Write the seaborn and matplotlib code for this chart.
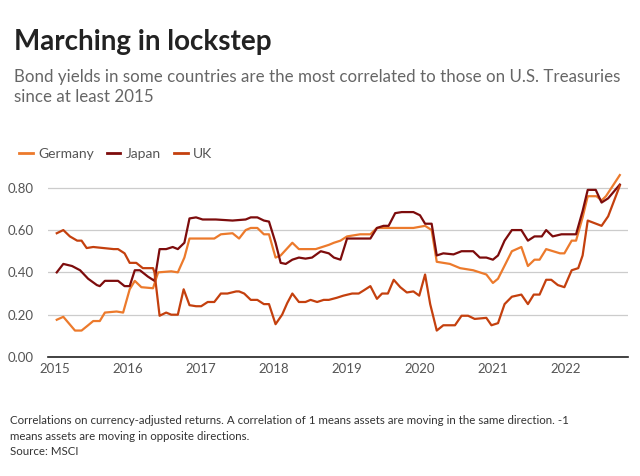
import matplotlib
matplotlib.use("Agg")
import matplotlib.pyplot as plt
import seaborn as sns
import pandas as pd

germany_t = [2015.02,2015.11,2015.27,2015.36,2015.45,2015.52,2015.61,2015.68,2015.84,2015.93,2016.02,2016.09,2016.18,2016.34,2016.41,2016.59,2016.68,2016.77,2016.84,2016.98,2017.18,2017.27,2017.43,2017.52,2017.61,2017.68,2017.77,2017.86,2017.93,2018.02,2018.09,2018.25,2018.34,2018.57,2018.66,2018.75,
             2018.82,2018.91,2019.0,2019.18,2019.32,2019.41,2019.57,2019.73,2019.91,2020.07,2020.16,2020.23,2020.41,2020.55,2020.73,2020.91,2021.0,2021.07,2021.26,2021.39,2021.48,2021.57,2021.64,2021.73,2021.92,2021.98,2022.08,2022.14,2022.23,2022.30,2022.42,2022.49,2022.55,2022.74]
germany_v = [0.176,0.19,0.125,0.125,0.15,0.17,0.17,0.21,0.215,0.21,0.32,0.36,0.33,0.325,0.40,0.405,0.40,0.47,0.56,0.56,0.56,0.58,0.585,0.56,0.60,0.61,0.61,0.58,0.58,0.47,0.48,0.54,0.51,0.51,0.52,0.53,
             0.54,0.55,0.57,0.58,0.58,0.61,0.61,0.61,0.61,0.62,0.60,0.45,0.44,0.42,0.41,0.39,0.35,0.37,0.50,0.52,0.43,0.46,0.46,0.51,0.49,0.49,0.55,0.55,0.66,0.76,0.76,0.74,0.76,0.86]

japan_t = [2015.02,2015.11,2015.23,2015.34,2015.45,2015.57,2015.61,2015.68,2015.77,2015.86,2015.95,2016.02,2016.09,2016.16,2016.27,2016.36,2016.43,2016.52,2016.61,2016.68,2016.77,2016.84,2016.93,2017.02,2017.20,2017.43,2017.61,2017.68,2017.77,2017.86,2017.93,2018.02,2018.09,2018.16,2018.25,2018.34,2018.43,2018.52,2018.64,2018.75,
           2018.82,2018.91,2019.0,2019.18,2019.23,2019.32,2019.41,2019.50,2019.57,2019.66,2019.75,2019.91,2020.0,2020.07,2020.16,2020.23,2020.32,2020.46,2020.57,2020.73,2020.82,2020.91,2021.0,2021.07,2021.16,2021.26,2021.39,2021.48,2021.57,2021.67,2021.73,2021.82,2021.94,2022.14,2022.23,2022.30,2022.41,2022.49,2022.58,2022.74]
japan_v = [0.40,0.44,0.43,0.41,0.37,0.34,0.335,0.36,0.36,0.36,0.335,0.335,0.41,0.41,0.38,0.36,0.51,0.51,0.52,0.51,0.54,0.655,0.66,0.65,0.65,0.645,0.65,0.66,0.66,0.645,0.64,0.54,0.445,0.44,0.46,0.47,0.465,0.47,0.50,0.49,
           0.47,0.46,0.56,0.56,0.56,0.56,0.61,0.62,0.62,0.68,0.685,0.685,0.67,0.63,0.63,0.48,0.49,0.485,0.50,0.50,0.47,0.47,0.46,0.48,0.55,0.60,0.60,0.55,0.57,0.57,0.60,0.57,0.58,0.58,0.69,0.79,0.79,0.73,0.75,0.815]

uk_t = [2015.02,2015.11,2015.20,2015.30,2015.36,2015.43,2015.52,2015.66,2015.80,2015.86,2015.95,2016.02,2016.11,2016.20,2016.34,2016.36,2016.43,2016.52,2016.59,2016.68,2016.76,2016.84,2016.93,2017.0,2017.09,2017.18,2017.27,2017.36,2017.48,2017.52,2017.59,2017.68,2017.77,2017.86,2017.93,2018.02,2018.11,2018.18,2018.25,2018.34,2018.43,2018.50,2018.59,2018.68,2018.75,
        2018.86,2018.95,2019.07,2019.16,2019.23,2019.32,2019.41,2019.48,2019.56,2019.64,2019.73,2019.82,2019.91,2019.99,2020.07,2020.14,2020.23,2020.32,2020.48,2020.57,2020.66,2020.75,2020.91,2020.98,2021.07,2021.16,2021.26,2021.39,2021.48,2021.56,2021.64,2021.73,2021.80,2021.89,2021.98,2022.08,2022.17,2022.23,2022.30,2022.49,2022.58,2022.74]
uk_v = [0.585,0.60,0.57,0.55,0.55,0.515,0.52,0.515,0.51,0.51,0.49,0.445,0.445,0.42,0.42,0.40,0.195,0.21,0.20,0.20,0.32,0.245,0.24,0.24,0.26,0.26,0.30,0.30,0.31,0.31,0.30,0.27,0.27,0.25,0.25,0.155,0.20,0.255,0.30,0.26,0.26,0.27,0.26,0.27,0.27,
        0.28,0.29,0.30,0.30,0.315,0.335,0.275,0.30,0.30,0.365,0.33,0.305,0.31,0.29,0.39,0.25,0.125,0.15,0.15,0.195,0.195,0.18,0.185,0.15,0.16,0.25,0.285,0.295,0.25,0.295,0.295,0.365,0.365,0.34,0.33,0.41,0.42,0.48,0.645,0.62,0.665,0.81]

year_ticks = [2015,2016,2017,2018,2019,2020,2021,2022]
y_ticks = [0.0,0.2,0.4,0.6,0.8]

df = pd.concat([
    pd.DataFrame({"t": germany_t, "v": germany_v, "s": "Germany"}),
    pd.DataFrame({"t": japan_t, "v": japan_v, "s": "Japan"}),
    pd.DataFrame({"t": uk_t, "v": uk_v, "s": "UK"}),
])
palette = {"Germany": "#ec7a2c", "Japan": "#7d0c0c", "UK": "#c4400e"}

plt.rcParams["font.family"] = "Lato"
fig = plt.figure(figsize=(6.4, 4.76), dpi=100)
ax = fig.add_axes([0.075, 0.25, 0.906, 0.40])
sns.lineplot(data=df, x="t", y="v", hue="s", palette=palette, linewidth=1.6, ax=ax, legend=False)
ax.set_xlim(2014.9, 2022.85)
ax.set_ylim(0, 0.9)
ax.set_yticks(y_ticks)
ax.set_yticklabels([f"{v:.2f}" for v in y_ticks])
ax.set_xticks(year_ticks)
ax.set_xticklabels([str(y) for y in year_ticks])
ax.grid(axis="y", color="#cccccc", linewidth=0.9)
ax.set_axisbelow(True)
for s in ["top", "right", "left"]:
    ax.spines[s].set_visible(False)
ax.spines["bottom"].set_color("#222222")
ax.spines["bottom"].set_linewidth(1.2)
ax.tick_params(axis="both", length=0, labelsize=9.5, colors="#555555", pad=4)
ax.tick_params(axis="y", pad=-2)
for lab in ax.get_yticklabels():
    lab.set_horizontalalignment("left")
    lab.set_x(-0.075)
ax.set_xlabel(""); ax.set_ylabel("")

from matplotlib.lines import Line2D
handles = [Line2D([0], [0], color=palette[k], lw=2) for k in ["Germany", "Japan", "UK"]]
fig.legend(handles, ["Germany", "Japan", "UK"], loc="upper left", bbox_to_anchor=(0.01, 0.715),
           ncol=3, frameon=False, fontsize=10, handlelength=1.0, handletextpad=0.4, columnspacing=0.9,
           labelcolor="#555555")

fig.text(0.022, 0.895, "Marching in lockstep", fontsize=20, fontweight="bold", color="#222222")
fig.text(0.022, 0.785, "Bond yields in some countries are the most correlated to those on U.S. Treasuries\nsince at least 2015",
         fontsize=12.2, color="#666666", linespacing=1.3)
fig.text(0.015, 0.045, "Correlations on currency-adjusted returns. A correlation of 1 means assets are moving in the same direction. -1\nmeans assets are moving in opposite directions.\nSource: MSCI",
         fontsize=8.3, color="#333333", linespacing=1.45)
fig.savefig("out.png", dpi=100, facecolor="white")
